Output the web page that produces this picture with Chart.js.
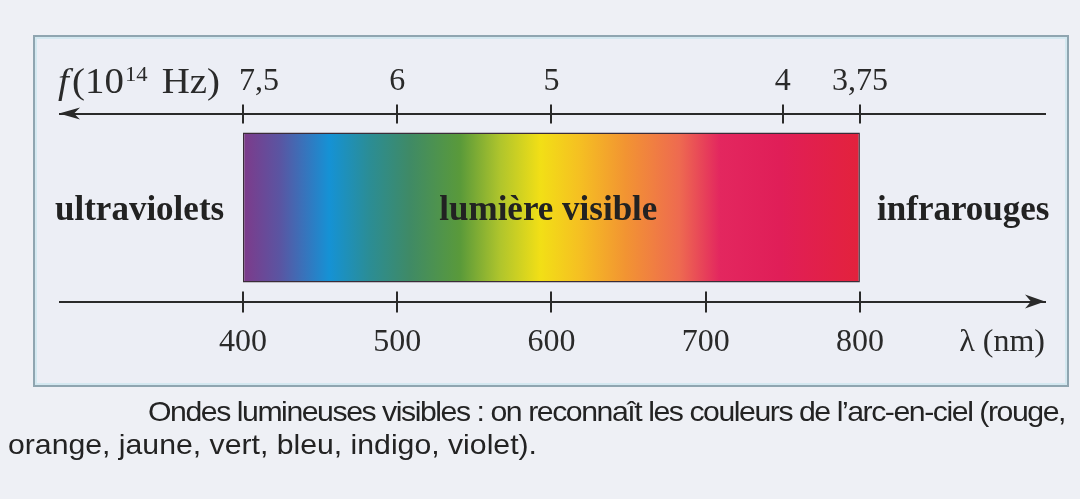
<!DOCTYPE html>
<html lang="fr">
<head>
<meta charset="utf-8">
<title>Ondes lumineuses visibles</title>
<script src="https://cdn.jsdelivr.net/npm/chart.js@4.4.1/dist/chart.umd.min.js"></script>
<style>
  html, body { margin: 0; padding: 0; }
  body { width: 1080px; height: 499px; background: #eef0f5; position: relative; overflow: hidden; }
  #cadre {
    position: absolute; left: 33px; top: 35px; width: 1032px; height: 348px;
    border: 2px solid #8fa5b0; box-shadow: inset 0 0 0 2px #d3e8f0; background: #eceef5;
  }
  #graphique { position: absolute; left: 0; top: 0; }
  .legende {
    position: absolute; font-family: "Liberation Sans", Arial, sans-serif; font-size: 28px;
    line-height: 32px; color: #232323; white-space: nowrap; transform-origin: 0 0;
  }
</style>
</head>
<body>
<div id="cadre"></div>
<canvas id="graphique" width="1080" height="499"></canvas>
<div class="legende" id="ligne1" style="left:148px; top:396px;">Ondes lumineuses visibles : on reconnaît les couleurs de l’arc-en-ciel (rouge,</div>
<div class="legende" id="ligne2" style="left:8px; top:429px;">orange, jaune, vert, bleu, indigo, violet).</div>
<script>
// Graduations des deux axes
const longueursOnde = [400, 500, 600, 700, 800];           // λ en nm
const frequences = [7.5, 6, 5, 4, 3.75];                    // f en 10^14 Hz
const etiquettesFreq = ["7,5", "6", "5", "4", "3,75"];

// Bande du visible
const bandes = ["visible"];
const domaineVisible = [400, 800];

// Noms des domaines (position en nm)
const zones = ["ultraviolets", "lumière visible", "infrarouges"];
const centresZones = [333, 598, 867];

// Couleurs du spectre
const spectreNm = [400, 424, 456, 482, 508, 541, 567, 593, 618, 648, 683, 709, 748, 800];
const spectreCouleurs = ["#7e3a8a", "#5a55a2", "#1592d5", "#2b8d95", "#3f8a66", "#5a9a3a", "#b0c52c",
  "#f2df16", "#f5c022", "#f29432", "#ee6a50", "#e3275f", "#e01e58", "#e3223c"];

const encre = "#2a2a2a";
const serif = '"Liberation Serif", "DejaVu Serif", serif';

function degradeSpectre(context) {
  const chart = context.chart;
  const { ctx, chartArea, scales } = chart;
  if (!chartArea) return null;
  const x0 = scales.x.getPixelForValue(domaineVisible[0]);
  const x1 = scales.x.getPixelForValue(domaineVisible[1]);
  const g = ctx.createLinearGradient(x0, 0, x1, 0);
  spectreNm.forEach((nm, i) => {
    g.addColorStop((nm - domaineVisible[0]) / (domaineVisible[1] - domaineVisible[0]), spectreCouleurs[i]);
  });
  return g;
}

// Graduations, flèches et textes posés sur les échelles
const habillage = {
  id: "habillage",
  afterDatasetsDraw(chart) {
    const { ctx, scales: { x, f, y } } = chart;
    const yBas = x.top;
    const yHaut = f.bottom;
    ctx.save();
    ctx.strokeStyle = encre;
    ctx.fillStyle = encre;
    ctx.lineWidth = 2;

    ctx.beginPath();
    longueursOnde.forEach(l => {
      const px = Math.round(x.getPixelForValue(l));
      ctx.moveTo(px, yBas - 10);
      ctx.lineTo(px, yBas + 11);
    });
    frequences.forEach(v => {
      const px = Math.round(f.getPixelForValue(3000 / v));
      ctx.moveTo(px, yHaut - 9);
      ctx.lineTo(px, yHaut + 10);
    });
    ctx.stroke();

    // flèche vers la gauche (fréquences)
    const g = x.left - 1;
    ctx.beginPath();
    ctx.moveTo(g, yHaut);
    ctx.lineTo(g + 21, yHaut - 6);
    ctx.lineTo(g + 15, yHaut);
    ctx.lineTo(g + 21, yHaut + 6);
    ctx.closePath();
    ctx.fill();

    // flèche vers la droite (longueurs d'onde)
    const d = x.right;
    ctx.beginPath();
    ctx.moveTo(d, yBas);
    ctx.lineTo(d - 20, yBas - 7);
    ctx.lineTo(d - 14, yBas);
    ctx.lineTo(d - 20, yBas + 7);
    ctx.closePath();
    ctx.fill();

    // noms des domaines
    ctx.font = "bold 35px " + serif;
    ctx.textAlign = "center";
    ctx.textBaseline = "alphabetic";
    ctx.fillStyle = "#222";
    const yc = y.getPixelForValue(0);
    zones.forEach((z, i) => ctx.fillText(z, x.getPixelForValue(centresZones[i]), yc + 12));

    // titre de l'axe des fréquences : f(10^14 Hz), étiré jusqu'à 7,5
    ctx.textAlign = "left";
    ctx.fillStyle = encre;
    const morceaux = [
      ["italic 36px " + serif, "f", 0, 3],
      ["36px " + serif, "(10", 0, 1],
      ["21px " + serif, "14", -12, 4],
      ["36px " + serif, " Hz)", 0, 0]
    ];
    let total = 0;
    morceaux.forEach(([police, txt, , ecart]) => {
      ctx.font = police;
      total += ctx.measureText(txt).width + ecart;
    });
    const debut = x.left - 2;
    const fin = f.getPixelForValue(3000 / frequences[0]) - 23;
    ctx.translate(debut, 93);
    ctx.scale((fin - debut) / total, 1);
    let cx = 0;
    morceaux.forEach(([police, txt, dy, ecart]) => {
      ctx.font = police;
      ctx.fillText(txt, cx, dy);
      cx += ctx.measureText(txt).width + ecart;
    });
    ctx.restore();
  }
};

new Chart(document.getElementById("graphique"), {
  type: "bar",
  data: {
    labels: bandes,
    datasets: [{
      data: [domaineVisible],
      backgroundColor: degradeSpectre,
      borderColor: "#3a2c38",
      borderWidth: 1.5,
      borderSkipped: false,
      barPercentage: 0.797,
      categoryPercentage: 1,
      xAxisID: "x",
      yAxisID: "y"
    }]
  },
  options: {
    indexAxis: "y",
    responsive: false,
    animation: false,
    events: [],
    layout: { padding: { left: 60, right: 35, top: 0, bottom: 0 } },
    plugins: { legend: { display: false }, tooltip: { enabled: false } },
    scales: {
      x: {
        type: "linear",
        position: "bottom",
        min: 281.4,
        max: 920,
        afterBuildTicks: s => { s.ticks = longueursOnde.map(v => ({ value: v })); },
        afterFit: s => { s.height = 499 - 301.5; },
        grid: { display: false, drawTicks: false },
        border: { display: true, color: encre, width: 2 },
        ticks: {
          autoSkip: false, maxRotation: 0, padding: 22, color: encre,
          font: { family: serif, size: 32 },
          callback: v => String(v)
        },
        title: {
          display: true, text: "λ (nm)", align: "end", color: encre,
          font: { family: serif, size: 32 },
          padding: { top: 0, bottom: 137 }
        }
      },
      f: {
        type: "linear",
        position: "top",
        min: 281.4,
        max: 920,
        afterBuildTicks: s => { s.ticks = frequences.map(v => ({ value: 3000 / v })); },
        afterFit: s => { s.height = 113.5; },
        grid: { display: false, drawTicks: false },
        border: { display: true, color: encre, width: 2 },
        ticks: {
          autoSkip: false, maxRotation: 0, padding: 13, color: encre,
          font: { family: serif, size: 32 },
          // la première étiquette est décalée à droite de son trait, comme dans le livre
          callback: (v, i) => (i === 0 ? "\u2002\u2002" : "") + etiquettesFreq[i]
        }
      },
      y: { type: "category", display: false }
    }
  },
  plugins: [habillage]
});

// ajuste la largeur de la légende sur celle du livre
const l1 = document.getElementById("ligne1");
const l2 = document.getElementById("ligne2");
const k = 529 / l2.getBoundingClientRect().width;
const w1 = l1.getBoundingClientRect().width;
l1.style.letterSpacing = ((917 / k - w1) / l1.textContent.length) + "px";
[l1, l2].forEach(el => { el.style.transform = "scaleX(" + k + ")"; });
</script>
</body>
</html>
